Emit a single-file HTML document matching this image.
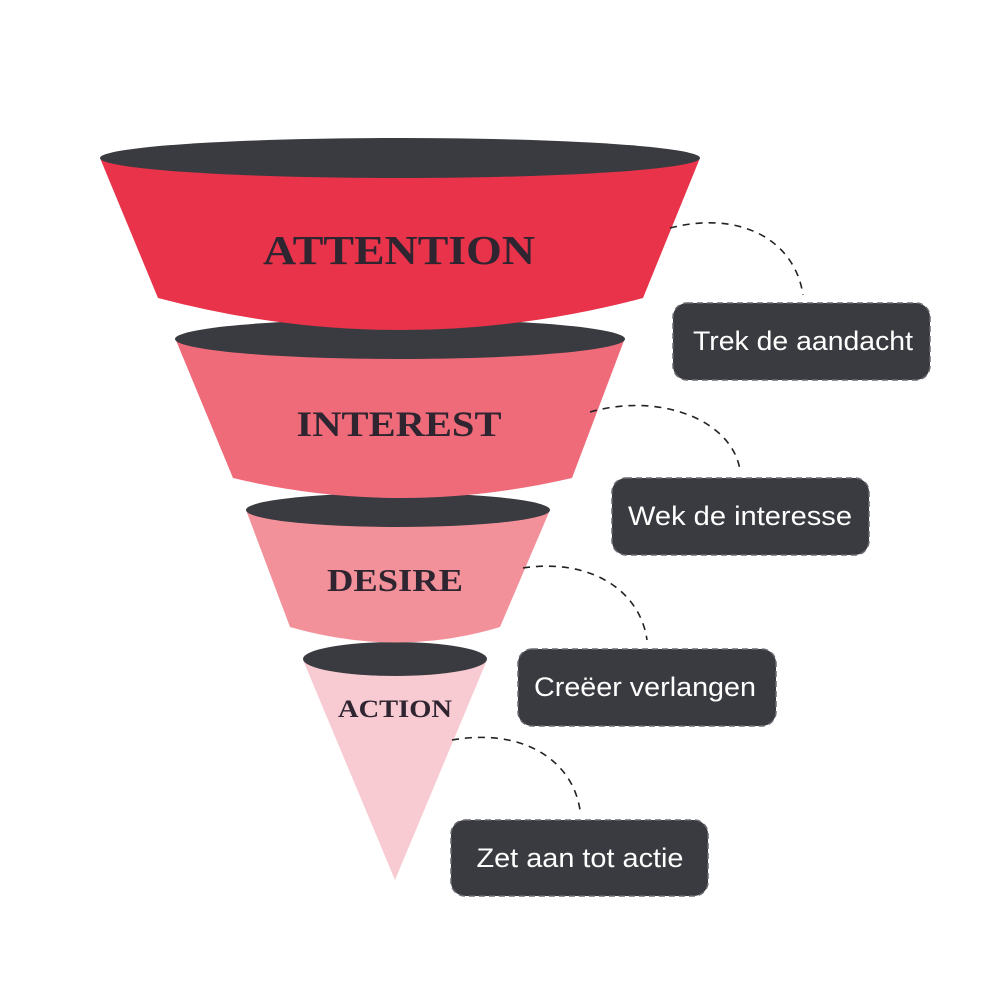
<!DOCTYPE html>
<html><head><meta charset="utf-8"><style>
html,body{margin:0;padding:0;background:#fff;}
svg{display:block;}
.lbl{font-family:"Liberation Serif",serif;font-weight:bold;fill:#2e2530;text-anchor:middle;}
.bt{font-family:"Liberation Sans",sans-serif;fill:#fff;font-size:27px;text-anchor:middle;}
.bx{fill:#3a3b40;stroke:#6a6b70;stroke-width:1.5;stroke-dasharray:6 4;}
.cn{fill:none;stroke:#222;stroke-width:1.6;stroke-dasharray:7 6;}
</style></head><body>
<svg width="1000" height="1000" viewBox="0 0 1000 1000">
<rect width="1000" height="1000" fill="#fff"/>
<path d="M303,660 L395,880 L487,660 Z" fill="#f8cbd2"/>
<ellipse cx="395" cy="659" rx="92" ry="17" fill="#3a3b40"/>
<path d="M246,510 L290,627 Q398,658 500,627 L550,510 Z" fill="#f3919b"/>
<ellipse cx="398" cy="510" rx="152" ry="17" fill="#3a3b40"/>
<path d="M175,338 L233,478 Q400,518 572,478 L625,338 Z" fill="#ef6b7a"/>
<ellipse cx="400" cy="339" rx="225" ry="20" fill="#3a3b40"/>
<path d="M100,158 L158,298 Q400,362 643,298 L700,158 Z" fill="#e8334a"/>
<ellipse cx="400" cy="158" rx="300" ry="20" fill="#3a3b40"/>

<text class="lbl" x="399" y="264" font-size="41" textLength="272" lengthAdjust="spacingAndGlyphs">ATTENTION</text>
<text class="lbl" x="399" y="436" font-size="36" textLength="205" lengthAdjust="spacingAndGlyphs">INTEREST</text>
<text class="lbl" x="395" y="591" font-size="32" textLength="136" lengthAdjust="spacingAndGlyphs">DESIRE</text>
<text class="lbl" x="395" y="717" font-size="25" textLength="114" lengthAdjust="spacingAndGlyphs">ACTION</text>

<path class="cn" d="M670,228 C740,210 795,240 803,295"/>
<path class="cn" d="M590,412 C660,392 732,420 740,470"/>
<path class="cn" d="M523,568 C590,558 640,590 647,640"/>
<path class="cn" d="M452,740 C520,728 572,758 580,810"/>

<rect class="bx" x="673" y="303" width="257" height="77" rx="14"/>
<text class="bt" x="803" y="350" textLength="220" lengthAdjust="spacingAndGlyphs">Trek de aandacht</text>
<rect class="bx" x="612" y="478" width="257" height="77" rx="14"/>
<text class="bt" x="740" y="525" textLength="224" lengthAdjust="spacingAndGlyphs">Wek de interesse</text>
<rect class="bx" x="518" y="649" width="258" height="77" rx="14"/>
<text class="bt" x="645" y="696" textLength="222" lengthAdjust="spacingAndGlyphs">Creëer verlangen</text>
<rect class="bx" x="451" y="820" width="257" height="76" rx="14"/>
<text class="bt" x="580" y="867" textLength="207" lengthAdjust="spacingAndGlyphs">Zet aan tot actie</text>
</svg>
</body></html>
